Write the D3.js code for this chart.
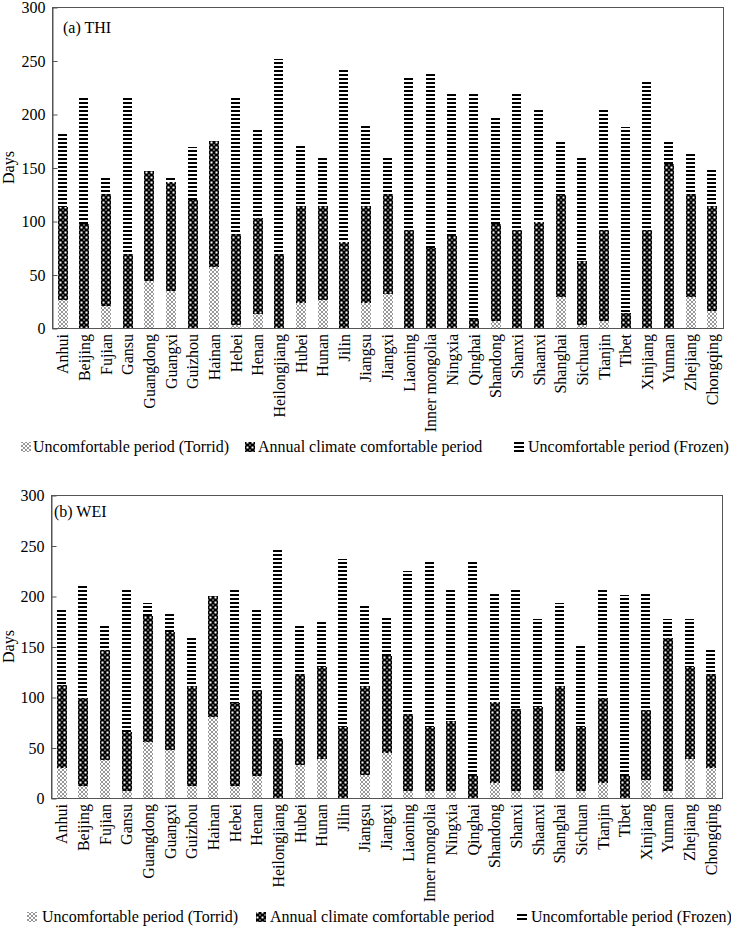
<!DOCTYPE html>
<html><head><meta charset="utf-8">
<script src="https://cdn.jsdelivr.net/npm/d3@7"></script>
<style>body{margin:0;background:#fff}svg{display:block}text{font-family:"Liberation Serif","Times New Roman",serif;fill:#000}</style>
</head><body><svg id="c" width="731" height="932"></svg>
<script>
const provinces = ["Anhui","Beijing","Fujian","Gansu","Guangdong","Guangxi","Guizhou","Hainan","Hebei","Henan","Heilongjiang","Hubei","Hunan","Jilin","Jiangsu","Jiangxi","Liaoning","Inner mongolia","Ningxia","Qinghai","Shandong","Shanxi","Shaanxi","Shanghai","Sichuan","Tianjin","Tibet","Xinjiang","Yunnan","Zhejiang","Chongqing"];
const seriesNames = ["Uncomfortable period (Torrid)","Annual climate comfortable period","Uncomfortable period (Frozen)"];
const yTicks = [0,50,100,150,200,250,300];

// (a) THI
const thiTorrid  = [26,0,21,0,44,35,0,57,3,13,0,23,26,0,23,32,0,0,0,0,7,0,0,29,3,7,0,0,0,29,16];
const thiComfort = [87,97,104,69,103,101,120,118,85,90,69,91,88,80,91,93,92,75,86,8,90,92,99,95,60,85,14,92,153,96,98];
const thiFrozen  = [68,118,15,146,0,6,49,0,127,84,182,56,46,163,77,35,143,163,135,213,101,129,105,52,96,112,174,138,21,39,34];

// (b) WEI
const weiTorrid  = [30,12,38,7,55,48,12,80,12,22,0,33,39,0,23,45,7,7,7,0,15,7,8,27,7,15,0,18,7,39,30];
const weiComfort = [82,87,109,58,125,116,99,120,82,85,58,90,91,70,88,96,76,63,69,22,80,81,82,84,63,84,22,69,151,91,93];
const weiFrozen  = [75,112,24,141,13,19,48,0,113,80,190,47,46,167,79,39,142,166,131,214,109,119,87,82,82,108,179,117,19,47,24];

const svg = d3.select("#c");
const defs = svg.append("defs");

// Torrid: light grey cross-hatch
const pT = defs.append("pattern").attr("id","pTorrid").attr("patternUnits","userSpaceOnUse").attr("width",4).attr("height",4);
pT.append("rect").attr("width",4).attr("height",4).attr("fill","#fff");
pT.append("path").attr("d","M0,0L4,4M4,0L0,4").attr("stroke","#8c8c8c").attr("stroke-width",0.9);

// Comfortable: black with white holes (chain look)
const pC = defs.append("pattern").attr("id","pComfort").attr("patternUnits","userSpaceOnUse").attr("width",5).attr("height",5);
pC.append("rect").attr("width",5).attr("height",5).attr("fill","#000");
pC.append("rect").attr("x",1.5).attr("y",1.5).attr("width",2).attr("height",2).attr("fill","#fff");
pC.append("rect").attr("x",0).attr("y",0).attr("width",0.6).attr("height",0.6).attr("fill","#fff");
pC.append("rect").attr("x",4.4).attr("y",0).attr("width",0.6).attr("height",0.6).attr("fill","#fff");
pC.append("rect").attr("x",0).attr("y",4.4).attr("width",0.6).attr("height",0.6).attr("fill","#fff");
pC.append("rect").attr("x",4.4).attr("y",4.4).attr("width",0.6).attr("height",0.6).attr("fill","#fff");

// Frozen: horizontal black dashes
const pF = defs.append("pattern").attr("id","pFrozen").attr("patternUnits","userSpaceOnUse").attr("width",12).attr("height",4);
pF.append("rect").attr("width",12).attr("height",4).attr("fill","#fff");
pF.append("rect").attr("y",2).attr("width",12).attr("height",2).attr("fill","#000");

const fills = ["url(#pTorrid)","url(#pComfort)","url(#pFrozen)"];

function panel(cfg){
  const {x0,x1,y0,y1,torrid,comfort,frozen,title,titleX,titleY,legY,legX,legTX} = cfg;
  const g = svg.append("g");
  const x = d3.scaleBand().domain(provinces).range([x0,x1]).paddingInner(0.54).paddingOuter(0.27);
  const y = d3.scaleLinear().domain([0,300]).range([y1,y0]);
  const bw = Math.round(x.bandwidth());
  const rows = provinces.map((p,i)=>({p, v:[torrid[i],comfort[i],frozen[i]]}));
  const bars = g.selectAll("g.bar").data(rows).join("g").attr("class","bar")
    .attr("transform",d=>`translate(${Math.round(x(d.p))},0)`);
  bars.each(function(d){
    let acc = 0;
    const gg = d3.select(this);
    d.v.forEach((v,k)=>{
      if(v>0){
        const top = Math.round(y(acc+v)), bot = Math.round(y(acc));
        gg.append("rect").attr("x",0).attr("width",k===2?bw-1:bw)
          .attr("y",top).attr("height",bot-top).attr("fill",fills[k]);
      }
      acc += v;
    });
  });
  // frame
  g.append("rect").attr("x",x0+0.5).attr("y",y0+0.5).attr("width",x1-x0).attr("height",y1-y0)
    .attr("fill","none").attr("stroke","#555").attr("stroke-width",1);
  // y axis
  const ax = g.append("g").attr("transform",`translate(${x0+0.5},0.5)`)
    .call(d3.axisLeft(y).tickValues(yTicks).tickSizeInner(-5).tickSizeOuter(0).tickPadding(7));
  ax.select(".domain").attr("stroke","#555");
  ax.selectAll(".tick line").attr("stroke","#555");
  ax.selectAll("text").style("font-family",'"Liberation Serif",serif').style("font-size","16px").attr("fill","#000");
  // x axis labels
  const xa = g.append("g").attr("transform",`translate(0,${y1})`)
    .call(d3.axisBottom(x).tickSize(0).tickPadding(0));
  xa.select(".domain").remove();
  xa.selectAll("text").style("font-family",'"Liberation Serif",serif').style("font-size","16px").attr("fill","#000")
    .attr("text-anchor","end").attr("dy","0.35em")
    .attr("transform","translate(0,6) rotate(-90)").attr("x",0).attr("y",0);
  // Days label
  g.append("text").attr("transform",`translate(14,${(y0+y1)/2}) rotate(-90)`)
    .attr("text-anchor","middle").style("font-size","16px").text("Days");
  // title
  g.append("text").attr("x",titleX).attr("y",titleY).style("font-size","16px").text(title);
  // legend
  const lg = g.append("g");
  seriesNames.forEach((n,k)=>{
    lg.append("rect").attr("x",legX[k]).attr("y",legY-5).attr("width",10).attr("height",10).attr("fill",fills[k]);
    lg.append("text").attr("x",legTX[k]).attr("y",legY+5).style("font-size","16px").text(n);
  });
}

panel({x0:52,x1:723,y0:7,y1:328,torrid:thiTorrid,comfort:thiComfort,frozen:thiFrozen,
  title:"(a) THI",titleX:63,titleY:33,legY:447,legX:[21,245,514],legTX:[33,258,528]});
panel({x0:51,x1:722,y0:495,y1:798,torrid:weiTorrid,comfort:weiComfort,frozen:weiFrozen,
  title:"(b) WEI",titleX:54,titleY:517,legY:917,legX:[27,256,517],legTX:[42,270,531]});
</script></body></html>
